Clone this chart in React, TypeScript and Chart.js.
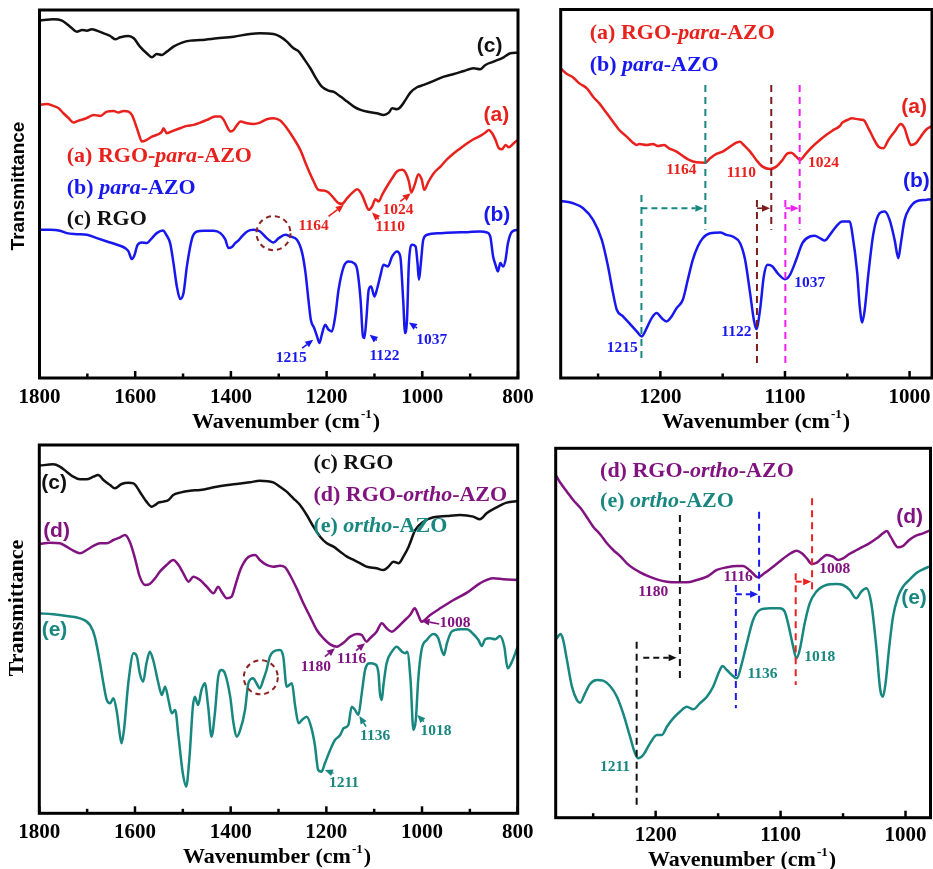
import React, { useEffect, useRef } from 'react';
import { Chart, registerables } from 'chart.js';

Chart.register(...registerables);

type Pt = [number, number];

// ---------- tick values ----------
const WIDE_TICKS = [800, 900, 1000, 1100, 1200, 1300, 1400, 1500, 1600, 1700, 1800];
const WIDE_LABELS = [800, 1000, 1200, 1400, 1600, 1800];
const NARROW_TICKS = [1000, 1050, 1100, 1150, 1200, 1250];
const NARROW_LABELS = [1000, 1100, 1200];

// ---------- panel 1 (1800-800): (c) RGO, (a) RGO-para-AZO, (b) para-AZO ----------
const P1_RGO: Pt[] = [[1800,107.3],[1771,107.7],[1753,107.3],[1736,105.5],[1722,104.0],[1711,104.5],[1701,104.3],[1691,104.7],[1680,104.3],[1666,103.5],[1652,102.7],[1642,101.7],[1631,102.3],[1614,102.7],[1603,102.0],[1590,99.5],[1576,97.5],[1565,96.3],[1555,97.3],[1544,97.0],[1534,98.0],[1520,99.5],[1502,100.7],[1485,101.3],[1464,101.5],[1429,102.0],[1394,102.5],[1360,103.3],[1339,103.5],[1311,103.3],[1297,102.5],[1283,101.0],[1269,99.0],[1258,98.0],[1248,96.0],[1234,93.0],[1220,89.5],[1210,87.5],[1196,86.3],[1185,85.9],[1171,84.5],[1157,83.0],[1143,81.5],[1129,80.5],[1116,80.0],[1095,79.5],[1081,79.0],[1070,79.7],[1063,81.0],[1053,80.7],[1046,81.3],[1035,83.5],[1025,85.7],[1011,87.3],[997,88.0],[976,89.2],[955,90.5],[934,91.3],[913,92.2],[893,93.0],[879,92.7],[868,94.0],[851,95.0],[830,96.3],[816,97.5],[800,97.7]];
const P1_RGO_PARA: Pt[] = [[1800,82.0],[1785,82.3],[1771,81.7],[1760,81.0],[1750,79.5],[1739,78.0],[1729,76.7],[1718,77.3],[1708,77.7],[1698,78.3],[1687,79.0],[1673,78.7],[1659,80.0],[1645,80.2],[1635,79.7],[1624,80.2],[1614,80.0],[1607,79.0],[1600,76.5],[1593,73.5],[1586,71.0],[1576,71.5],[1565,72.5],[1555,73.0],[1544,74.0],[1541,75.0],[1534,73.5],[1520,74.3],[1506,75.0],[1492,75.7],[1478,76.0],[1464,76.7],[1450,77.5],[1433,78.5],[1422,78.5],[1415,77.5],[1408,75.5],[1401,74.0],[1394,74.5],[1387,76.0],[1380,77.0],[1366,76.5],[1353,76.3],[1339,76.7],[1325,77.7],[1311,78.0],[1297,77.3],[1283,75.0],[1269,72.0],[1255,68.5],[1241,63.5],[1227,59.0],[1217,56.5],[1206,56.3],[1196,55.7],[1185,54.0],[1175,52.5],[1168,52.3],[1157,54.0],[1147,55.5],[1136,56.7],[1126,55.0],[1119,52.5],[1112,50.5],[1105,51.5],[1098,53.7],[1091,53.0],[1084,55.0],[1074,57.5],[1063,60.0],[1053,62.0],[1042,62.5],[1035,61.7],[1028,59.0],[1023,55.7],[1016,58.0],[1008,61.2],[1001,59.5],[996,56.5],[987,59.0],[976,61.5],[962,63.5],[948,65.7],[934,67.5],[920,69.0],[906,70.5],[893,71.7],[879,72.7],[868,73.7],[861,74.5],[854,73.5],[847,71.5],[840,69.0],[833,68.7],[826,70.0],[819,69.3],[809,70.5],[800,71.5]];
const P1_PARA: Pt[] = [[1800,44.5],[1778,44.5],[1757,44.2],[1743,43.5],[1722,43.2],[1701,43.0],[1680,42.0],[1659,41.0],[1638,40.0],[1621,39.0],[1614,38.0],[1607,35.7],[1602,36.7],[1595,40.0],[1586,40.7],[1576,40.5],[1565,42.0],[1555,43.5],[1542,44.3],[1535,43.0],[1527,40.5],[1520,34.5],[1513,27.5],[1506,23.7],[1499,25.5],[1492,33.5],[1481,42.0],[1471,44.0],[1457,44.2],[1436,44.2],[1422,43.5],[1412,41.7],[1405,39.0],[1398,39.3],[1391,40.5],[1384,41.3],[1377,42.5],[1366,44.0],[1353,44.5],[1339,44.0],[1325,42.0],[1311,40.7],[1300,42.0],[1286,43.0],[1276,42.5],[1262,41.5],[1251,37.5],[1244,31.5],[1238,23.5],[1233,17.5],[1226,15.0],[1220,12.5],[1215,10.5],[1210,13.0],[1203,16.0],[1196,14.5],[1189,14.0],[1182,18.5],[1175,26.5],[1164,33.5],[1154,35.0],[1143,34.5],[1136,32.5],[1129,23.5],[1124,12.5],[1121,12.0],[1117,17.5],[1112,26.5],[1107,27.5],[1100,24.5],[1095,26.5],[1088,30.5],[1081,34.0],[1072,33.5],[1063,36.5],[1053,38.0],[1046,36.5],[1040,23.5],[1036,13.5],[1032,17.5],[1028,34.5],[1021,40.0],[1014,39.5],[1010,34.5],[1007,29.5],[1003,34.5],[998,41.5],[990,43.0],[962,43.5],[934,43.7],[906,43.8],[879,44.0],[865,43.7],[858,42.5],[852,36.5],[847,34.0],[842,32.0],[837,34.5],[831,33.5],[826,35.5],[821,40.5],[812,44.0],[800,44.5]];

// ---------- panel 2 (1280-980): (a) RGO-para-AZO, (b) para-AZO ----------
const P2_RGO_PARA: Pt[] = [[1280,93.0],[1275,91.3],[1270,90.3],[1265,88.5],[1259,87.0],[1254,84.5],[1249,82.5],[1243,79.5],[1238,77.0],[1233,74.5],[1227,72.5],[1222,70.7],[1219,70.0],[1217,70.3],[1211,70.0],[1206,70.3],[1202,69.7],[1197,70.0],[1193,69.0],[1187,68.0],[1182,66.7],[1177,65.5],[1171,64.8],[1164,64.7],[1160,66.0],[1155,67.3],[1150,68.0],[1144,69.5],[1139,70.7],[1136,71.0],[1134,70.3],[1128,68.0],[1123,65.5],[1118,63.5],[1112,62.8],[1107,63.5],[1102,65.5],[1098,67.5],[1095,67.7],[1091,66.5],[1088,65.5],[1083,67.5],[1078,69.5],[1072,71.5],[1067,73.0],[1062,74.3],[1056,75.7],[1054,76.7],[1050,77.5],[1046,78.0],[1041,77.7],[1037,77.5],[1033,75.0],[1029,72.0],[1025,69.5],[1021,69.0],[1017,71.5],[1012,74.0],[1007,76.3],[1004,75.0],[1001,71.5],[999,70.0],[995,70.5],[991,72.5],[987,74.5],[983,75.5],[980,76.0]];
const P2_PARA: Pt[] = [[1280,53.2],[1270,52.5],[1262,51.0],[1254,47.5],[1247,41.5],[1242,33.5],[1238,25.5],[1235,20.5],[1230,18.5],[1225,16.5],[1219,14.0],[1215,12.5],[1211,15.0],[1207,18.0],[1203,19.5],[1199,18.0],[1195,17.0],[1191,18.5],[1187,21.0],[1182,23.5],[1178,29.5],[1174,35.5],[1170,39.5],[1166,42.0],[1160,43.5],[1152,43.7],[1147,43.0],[1142,42.5],[1136,40.5],[1132,35.5],[1128,25.5],[1125,17.5],[1123,14.7],[1120,20.5],[1117,30.5],[1114,34.0],[1110,33.5],[1106,31.5],[1100,29.7],[1096,31.0],[1091,35.5],[1086,40.5],[1080,42.5],[1076,42.7],[1072,42.0],[1068,41.3],[1064,43.0],[1059,45.5],[1054,47.0],[1048,47.0],[1046,43.5],[1042,31.5],[1040,21.5],[1038,16.7],[1036,20.5],[1033,31.5],[1029,43.5],[1024,49.5],[1020,50.0],[1016,47.5],[1012,41.5],[1009,36.0],[1007,40.5],[1004,47.5],[1000,51.0],[995,53.0],[987,53.5],[983,53.7],[980,53.8]];

// ---------- panel 3 (1800-800): (c) RGO, (d) RGO-ortho-AZO, (e) ortho-AZO ----------
const P3_RGO: Pt[] = [[1800,104.3],[1771,104.7],[1757,104.0],[1743,102.5],[1729,101.0],[1715,100.2],[1701,100.2],[1687,101.0],[1677,101.5],[1666,100.0],[1652,98.5],[1642,97.5],[1628,98.8],[1614,99.2],[1603,99.0],[1590,96.5],[1576,93.5],[1565,92.0],[1558,92.5],[1551,93.2],[1541,93.5],[1530,94.0],[1520,95.5],[1506,96.2],[1485,96.8],[1464,97.0],[1429,98.0],[1394,98.7],[1360,99.3],[1339,99.8],[1311,99.3],[1297,98.0],[1283,96.5],[1269,94.5],[1255,92.5],[1241,89.5],[1227,86.0],[1213,83.0],[1199,81.0],[1185,80.0],[1171,78.5],[1157,77.0],[1143,76.0],[1129,75.0],[1116,74.0],[1095,73.5],[1081,73.0],[1070,74.0],[1060,75.5],[1049,75.0],[1039,77.0],[1028,80.0],[1014,85.0],[997,87.5],[976,88.8],[948,89.2],[920,89.5],[893,89.0],[879,88.2],[865,90.0],[844,91.8],[823,93.2],[800,93.7]];
const P3_RGO_ORTHO: Pt[] = [[1800,80.8],[1778,81.2],[1757,81.0],[1743,80.0],[1729,78.8],[1715,78.0],[1701,79.0],[1687,80.2],[1673,81.0],[1659,81.0],[1645,82.0],[1631,82.8],[1621,83.5],[1610,81.2],[1600,76.5],[1590,71.0],[1579,68.5],[1569,68.8],[1558,70.5],[1548,72.5],[1534,74.5],[1520,76.0],[1509,74.5],[1499,72.0],[1488,69.5],[1478,71.0],[1464,70.0],[1450,68.0],[1436,66.0],[1426,68.0],[1419,66.5],[1408,64.5],[1398,65.0],[1391,68.0],[1380,73.0],[1366,76.5],[1349,77.5],[1339,76.0],[1325,74.5],[1311,74.0],[1297,74.3],[1286,73.8],[1276,71.5],[1262,67.5],[1248,63.0],[1234,59.0],[1220,55.0],[1206,52.5],[1192,50.7],[1178,50.0],[1164,51.2],[1150,53.0],[1136,53.8],[1126,53.5],[1116,51.5],[1109,52.5],[1095,54.5],[1084,57.0],[1074,55.5],[1063,54.5],[1053,55.5],[1039,57.5],[1025,59.5],[1015,61.5],[1008,59.5],[1001,57.5],[983,59.5],[962,61.5],[934,64.0],[906,66.2],[879,69.0],[851,70.5],[830,70.2],[800,70.0]];
const P3_ORTHO: Pt[] = [[1800,60.0],[1771,59.7],[1743,59.2],[1715,58.5],[1694,56.5],[1684,53.0],[1673,45.0],[1666,39.0],[1659,34.0],[1652,33.0],[1645,34.5],[1638,30.5],[1631,23.0],[1628,21.0],[1623,25.0],[1614,39.0],[1603,48.0],[1596,47.0],[1590,42.0],[1583,39.5],[1576,45.0],[1569,48.5],[1562,46.0],[1551,39.0],[1544,35.5],[1537,38.0],[1530,34.0],[1523,30.0],[1516,31.0],[1509,23.0],[1500,12.0],[1493,8.0],[1486,17.0],[1479,32.0],[1475,35.0],[1468,32.5],[1461,37.0],[1454,39.0],[1447,32.0],[1440,23.0],[1433,30.0],[1426,41.0],[1419,43.0],[1412,42.0],[1401,35.0],[1394,27.0],[1387,23.0],[1380,25.0],[1370,31.0],[1363,39.0],[1353,40.5],[1346,39.0],[1339,37.5],[1332,40.0],[1325,43.0],[1318,47.0],[1311,48.5],[1297,49.0],[1290,47.0],[1283,38.0],[1272,39.0],[1265,32.0],[1258,27.0],[1251,28.0],[1241,29.0],[1231,25.5],[1224,20.5],[1217,13.0],[1210,12.5],[1203,15.0],[1192,19.0],[1182,22.0],[1171,23.5],[1164,25.5],[1154,26.5],[1147,32.0],[1140,31.0],[1133,29.5],[1126,36.0],[1119,43.0],[1109,45.0],[1098,44.7],[1091,42.0],[1088,36.0],[1084,34.0],[1081,38.0],[1074,45.0],[1063,48.5],[1053,50.0],[1042,48.5],[1035,48.0],[1031,48.5],[1024,40.0],[1018,25.0],[1013,28.0],[1008,40.0],[1001,49.0],[990,52.0],[976,53.8],[966,52.5],[959,49.0],[954,47.5],[948,51.0],[938,54.5],[920,55.2],[906,55.2],[893,53.8],[882,52.0],[875,50.2],[868,52.2],[858,52.5],[847,52.2],[837,53.2],[828,50.0],[821,43.5],[812,45.5],[800,50.0]];

// ---------- panel 4 (1280-980): (d) RGO-ortho-AZO, (e) ortho-AZO ----------
const P4_RGO_ORTHO: Pt[] = [[1280,102.8],[1276,100.3],[1271,97.8],[1266,95.3],[1260,92.8],[1255,90.1],[1250,87.3],[1244,84.8],[1239,82.3],[1234,80.3],[1228,78.3],[1223,76.3],[1218,74.8],[1212,73.5],[1207,72.6],[1199,71.5],[1191,70.8],[1183,70.6],[1175,70.6],[1167,71.3],[1159,72.3],[1151,74.3],[1143,75.1],[1135,75.5],[1130,75.5],[1125,74.3],[1118,72.1],[1113,73.3],[1106,75.3],[1101,76.8],[1094,78.8],[1087,80.1],[1083,79.3],[1079,77.8],[1075,76.1],[1071,76.5],[1067,77.8],[1063,78.8],[1058,78.3],[1054,77.3],[1050,77.8],[1045,79.1],[1039,80.3],[1034,81.3],[1029,82.3],[1023,83.8],[1018,85.3],[1015,86.0],[1012,84.3],[1006,81.1],[1002,81.5],[997,83.3],[992,84.5],[986,85.3],[981,86.1]];
const P4_ORTHO: Pt[] = [[1280,53.5],[1276,55.1],[1274,53.3],[1271,47.3],[1267,39.3],[1263,35.3],[1260.5,34.5],[1256.5,37.3],[1252.5,40.1],[1247,41.3],[1242,41.1],[1236.5,39.5],[1231,36.3],[1226,31.3],[1220.5,24.3],[1216.5,19.3],[1214,17.8],[1210,18.8],[1204.5,22.3],[1199,24.8],[1195,24.8],[1191,27.3],[1186,29.8],[1180.6,31.8],[1175,33.3],[1170,32.5],[1164.6,34.3],[1159,36.3],[1154,39.3],[1148.6,44.3],[1146.5,45.5],[1143,44.3],[1139,42.8],[1135,41.8],[1131,46.3],[1127,52.3],[1122,59.3],[1116.6,62.3],[1108.7,62.8],[1100.7,62.8],[1096.7,61.8],[1094,58.3],[1090.5,52.3],[1087.3,47.8],[1084.7,50.3],[1080.7,58.3],[1076.7,64.3],[1071.4,67.8],[1063.4,69.8],[1055.4,70.1],[1050,69.8],[1044.7,68.3],[1039.4,65.8],[1035.4,67.8],[1031.4,68.8],[1027.4,64.3],[1023.4,51.3],[1020.2,38.3],[1018,36.3],[1016,40.3],[1013,51.3],[1010,60.3],[1006,66.3],[1002,69.3],[997,71.3],[991.5,73.3],[986,74.5],[981,75.3]];

// ---------- styles ----------
const SERIF = "'Liberation Serif', 'Times New Roman', serif";
const SANS = "'Liberation Sans', Arial, sans-serif";
const RED = '#e8211d';
const BLUE = '#1818ee';
const BLACK = '#111111';
const PURPLE = '#80137f';
const TEAL = '#17877f';
const DARKRED = '#7d1c1c';
const MAGENTA = '#f020f0';

type Part = { t: string; i?: boolean };
type TextItem = { x: number; y: number; parts: Part[]; color: string; fam: string; size: number; align: 'left' | 'center' };
type ArrowItem = { x1: number; y1: number; x2: number; y2: number; color: string; dash?: boolean };
type VLine = { x: number; y1: number; y2: number; color: string };
type CircleItem = { x: number; y: number; r: number; color: string };

const legend = (x: number, y: number, parts: Part[], color: string): TextItem => ({ x, y, parts, color, fam: SERIF, size: 22, align: 'left' });
const tag = (x: number, y: number, t: string, color: string): TextItem => ({ x, y, parts: [{ t }], color, fam: SANS, size: 21, align: 'left' });
const peak = (x: number, y: number, t: string, color: string): TextItem => ({ x, y, parts: [{ t }], color, fam: SERIF, size: 15.5, align: 'center' });

interface PanelSpec {
  left: number; top: number; width: number; height: number;
  pad: { left: number; right: number; top: number };
  axisH: number; tickPad: number;
  xMin: number; xMax: number; yMax: number;
  ticks: number[]; labels: number[];
  series: { data: Pt[]; color: string }[];
  texts: TextItem[]; arrows: ArrowItem[]; vlines: VLine[]; circles: CircleItem[];
  xTitle: { x: number; y: number };
  yTitle?: { x: number; y: number; fam: string; size: number };
}

const PANELS: PanelSpec[] = [
  {
    left: 0, top: 0, width: 545, height: 435,
    pad: { left: 39.5, right: 27, top: 10 }, axisH: 57, tickPad: 7,
    xMin: 800, xMax: 1800, yMax: 110.5, ticks: WIDE_TICKS, labels: WIDE_LABELS,
    series: [{ data: P1_RGO, color: BLACK }, { data: P1_RGO_PARA, color: RED }, { data: P1_PARA, color: BLUE }],
    texts: [
      legend(1743, 66.5, [{ t: '(a) RGO-' }, { t: 'para', i: true }, { t: '-AZO' }], RED),
      legend(1743, 57.0, [{ t: '(b) ' }, { t: 'para', i: true }, { t: '-AZO' }], BLUE),
      legend(1743, 47.5, [{ t: '(c) RGO' }], BLACK),
      tag(886, 99.5, '(c)', BLACK), tag(872, 79.0, '(a)', RED), tag(872, 49.0, '(b)', BLUE),
      peak(1227, 45.7, '1164', RED), peak(1067, 45.2, '1110', RED), peak(1051, 50.5, '1024', RED),
      peak(1274, 6.0, '1215', BLUE), peak(1079, 6.7, '1122', BLUE), peak(980, 11.3, '1037', BLUE),
    ],
    arrows: [
      { x1: 1196, y1: 48.5, x2: 1164, y2: 52.0, color: RED },
      { x1: 1091, y1: 47.7, x2: 1105, y2: 49.7, color: RED },
      { x1: 1046, y1: 53.0, x2: 1024, y2: 55.5, color: RED },
      { x1: 1251, y1: 9.0, x2: 1228, y2: 11.5, color: BLUE },
      { x1: 1095, y1: 11.3, x2: 1110, y2: 13.0, color: BLUE },
      { x1: 1011, y1: 15.0, x2: 1028, y2: 16.7, color: BLUE },
    ],
    vlines: [],
    circles: [{ x: 1311, y: 43.5, r: 17, color: '#8b2323' }],
    xTitle: { x: 286, y: 422 },
    yTitle: { x: 19, y: 186, fam: SANS, size: 19 },
  },
  {
    left: 545, top: 0, width: 388, height: 435,
    pad: { left: 15.7, right: 1, top: 9.5 }, axisH: 57, tickPad: 7,
    xMin: 982, xMax: 1280, yMax: 110.7, ticks: NARROW_TICKS, labels: NARROW_LABELS,
    series: [{ data: P2_RGO_PARA, color: RED }, { data: P2_PARA, color: BLUE }],
    texts: [
      legend(1256.7, 103.5, [{ t: '(a) RGO-' }, { t: 'para', i: true }, { t: '-AZO' }], RED),
      legend(1256.7, 94.0, [{ t: '(b) ' }, { t: 'para', i: true }, { t: '-AZO' }], BLUE),
      tag(1006.7, 81.3, '(a)', RED), tag(1005.3, 59.0, '(b)', BLUE),
      peak(1183.2, 62.5, '1164', RED), peak(1135, 61.5, '1110', RED), peak(1069, 64.7, '1024', RED),
      peak(1230.7, 9.0, '1215', BLUE), peak(1139, 13.8, '1122', BLUE), peak(1080.2, 28.5, '1037', BLUE),
    ],
    arrows: [
      { x1: 1215.2, y1: 51, x2: 1165.5, y2: 51, color: TEAL, dash: true },
      { x1: 1122.5, y1: 51, x2: 1112, y2: 51, color: DARKRED },
      { x1: 1099.7, y1: 51, x2: 1089, y2: 51, color: MAGENTA, dash: true },
    ],
    vlines: [
      { x: 1163.9, y1: 88, y2: 44.5, color: TEAL },
      { x: 1215.2, y1: 55, y2: 5.5, color: TEAL },
      { x: 1111, y1: 88, y2: 44.5, color: DARKRED },
      { x: 1122.5, y1: 53.5, y2: 4.5, color: DARKRED },
      { x: 1088.2, y1: 88, y2: 44.5, color: MAGENTA },
      { x: 1099.7, y1: 53.5, y2: 4.5, color: MAGENTA },
    ],
    circles: [],
    xTitle: { x: 211, y: 422 },
  },
  {
    left: 0, top: 435, width: 545, height: 434,
    pad: { left: 39.3, right: 27.3, top: 10 }, axisH: 55.7, tickPad: 7,
    xMin: 800, xMax: 1800, yMax: 110.5, ticks: WIDE_TICKS, labels: WIDE_LABELS,
    series: [{ data: P3_RGO, color: BLACK }, { data: P3_RGO_ORTHO, color: PURPLE }, { data: P3_ORTHO, color: TEAL }],
    texts: [
      tag(1796, 99.0, '(c)', BLACK), tag(1792, 84.5, '(d)', PURPLE), tag(1795, 55.0, '(e)', TEAL),
      legend(1227, 105.0, [{ t: '(c) RGO' }], BLACK),
      legend(1227, 95.5, [{ t: '(d) RGO-' }, { t: 'ortho', i: true }, { t: '-AZO' }], PURPLE),
      legend(1227, 86.0, [{ t: '(e) ' }, { t: 'ortho', i: true }, { t: '-AZO' }], TEAL),
      peak(1222, 43.8, '1180', PURPLE), peak(1147, 46.2, '1116', PURPLE), peak(931, 57.2, '1008', PURPLE),
      peak(1098, 23.2, '1136', TEAL), peak(971, 24.7, '1018', TEAL), peak(1163, 9.2, '1211', TEAL),
    ],
    arrows: [
      { x1: 1203, y1: 47.0, x2: 1182, y2: 49.5, color: PURPLE },
      { x1: 1138, y1: 48.8, x2: 1119, y2: 51.0, color: PURPLE },
      { x1: 964, y1: 56.8, x2: 1001, y2: 57.8, color: PURPLE },
      { x1: 1117, y1: 26.0, x2: 1131, y2: 29.2, color: TEAL },
      { x1: 996, y1: 27.5, x2: 1010, y2: 29.5, color: TEAL },
      { x1: 1185, y1: 12.0, x2: 1203, y2: 13.0, color: TEAL },
    ],
    vlines: [],
    circles: [{ x: 1337, y: 40.8, r: 17, color: '#8b2323' }],
    xTitle: { x: 277, y: 422 },
    yTitle: { x: 17, y: 173, fam: SERIF, size: 22 },
  },
  {
    left: 545, top: 435, width: 388, height: 434,
    pad: { left: 10.7, right: 2.5, top: 13.3 }, axisH: 51.3, tickPad: 5,
    xMin: 980, xMax: 1280, yMax: 110.8, ticks: NARROW_TICKS, labels: NARROW_LABELS,
    series: [{ data: P4_RGO_ORTHO, color: PURPLE }, { data: P4_ORTHO, color: TEAL }],
    texts: [
      legend(1244.5, 103.8, [{ t: '(d) RGO-' }, { t: 'ortho', i: true }, { t: '-AZO' }], PURPLE),
      legend(1244.5, 94.8, [{ t: '(e) ' }, { t: 'ortho', i: true }, { t: '-AZO' }], TEAL),
      tag(1007.5, 90.1, '(d)', PURPLE), tag(1003.5, 65.8, '(e)', TEAL),
      peak(1201.9, 67.6, '1180', PURPLE), peak(1134, 72.1, '1116', PURPLE), peak(1056.7, 74.5, '1008', PURPLE),
      peak(1114.5, 43.0, '1136', TEAL), peak(1068.7, 48.3, '1018', TEAL), peak(1232.5, 15.1, '1211', TEAL),
    ],
    arrows: [
      { x1: 1209.9, y1: 48, x2: 1183.2, y2: 48, color: BLACK, dash: true },
      { x1: 1135.8, y1: 67, x2: 1118, y2: 67, color: '#1a1aee', dash: true },
      { x1: 1087.9, y1: 70.8, x2: 1075.5, y2: 70.8, color: '#ee2020', dash: true },
    ],
    vlines: [
      { x: 1180.6, y1: 90.8, y2: 41.3, color: BLACK },
      { x: 1215.2, y1: 52.8, y2: 3.3, color: BLACK },
      { x: 1117.2, y1: 91.8, y2: 63.3, color: '#1a1aee' },
      { x: 1135.8, y1: 69.8, y2: 32.8, color: '#1a1aee' },
      { x: 1074.8, y1: 95.8, y2: 67.3, color: '#ee2020' },
      { x: 1087.9, y1: 73.3, y2: 39.8, color: '#ee2020' },
    ],
    circles: [],
    xTitle: { x: 197, y: 425 },
  },
];

function drawArrow(ctx: CanvasRenderingContext2D, x1: number, y1: number, x2: number, y2: number, color: string, dash?: boolean) {
  const ang = Math.atan2(y2 - y1, x2 - x1);
  const hl = 8, hw = 3.5;
  const bx = x2 - hl * Math.cos(ang), by = y2 - hl * Math.sin(ang);
  ctx.strokeStyle = color; ctx.fillStyle = color;
  ctx.lineWidth = dash ? 2 : 1.6;
  ctx.setLineDash(dash ? [6, 4] : []);
  ctx.beginPath(); ctx.moveTo(x1, y1); ctx.lineTo(bx, by); ctx.stroke();
  ctx.setLineDash([]);
  ctx.beginPath();
  ctx.moveTo(x2, y2);
  ctx.lineTo(bx - hw * Math.sin(ang), by + hw * Math.cos(ang));
  ctx.lineTo(bx + hw * Math.sin(ang), by - hw * Math.cos(ang));
  ctx.closePath(); ctx.fill();
}

function drawRich(ctx: CanvasRenderingContext2D, x: number, y: number, parts: Part[], fam: string, size: number, color: string, align: string) {
  const f = (p: Part) => `${p.i ? 'italic ' : ''}bold ${size}px ${fam}`;
  let total = 0;
  for (const p of parts) { ctx.font = f(p); total += ctx.measureText(p.t).width; }
  let cx = align === 'center' ? x - total / 2 : x;
  ctx.fillStyle = color; ctx.textBaseline = 'middle'; ctx.textAlign = 'left';
  for (const p of parts) { ctx.font = f(p); ctx.fillText(p.t, cx, y); cx += ctx.measureText(p.t).width; }
}

function makeDeco(spec: PanelSpec) {
  return {
    id: 'deco',
    afterDraw(chart: any) {
      const ctx: CanvasRenderingContext2D = chart.ctx;
      const { left, right, top, bottom } = chart.chartArea;
      const xs = chart.scales.x, ys = chart.scales.y;
      const X = (v: number) => xs.getPixelForValue(v);
      const Y = (v: number) => ys.getPixelForValue(v);
      ctx.save();
      for (const l of spec.vlines) {
        ctx.strokeStyle = l.color; ctx.lineWidth = 2; ctx.setLineDash([7, 5]);
        ctx.beginPath(); ctx.moveTo(X(l.x), Y(l.y1)); ctx.lineTo(X(l.x), Y(l.y2)); ctx.stroke();
      }
      ctx.setLineDash([]);
      for (const a of spec.arrows) drawArrow(ctx, X(a.x1), Y(a.y1), X(a.x2), Y(a.y2), a.color, a.dash);
      for (const c of spec.circles) {
        ctx.strokeStyle = c.color; ctx.lineWidth = 2; ctx.setLineDash([5, 4]);
        ctx.beginPath(); ctx.arc(X(c.x), Y(c.y), c.r, 0, Math.PI * 2); ctx.stroke();
      }
      ctx.setLineDash([]);
      for (const t of spec.texts) drawRich(ctx, X(t.x), Y(t.y), t.parts, t.fam, t.size, t.color, t.align);
      ctx.strokeStyle = '#000'; ctx.lineWidth = 2.5;
      for (const tk of xs.ticks) {
        const px = X(tk.value);
        const major = tk.label !== '' && tk.label != null;
        ctx.beginPath(); ctx.moveTo(px, bottom); ctx.lineTo(px, bottom - (major ? 7 : 4.5)); ctx.stroke();
      }
      ctx.lineWidth = 3;
      ctx.strokeRect(left, top, right - left, bottom - top);
      ctx.fillStyle = '#000'; ctx.textBaseline = 'middle'; ctx.textAlign = 'left';
      const big = `bold 22px ${SERIF}`, small = `bold 13px ${SERIF}`;
      const a = 'Wavenumber (cm', s = '-1', b = ')';
      ctx.font = big; const wa = ctx.measureText(a).width; const wb = ctx.measureText(b).width;
      ctx.font = small; const ws = ctx.measureText(s).width;
      let x0 = spec.xTitle.x - (wa + ws + wb + 2) / 2;
      ctx.font = big; ctx.fillText(a, x0, spec.xTitle.y); x0 += wa + 1;
      ctx.font = small; ctx.fillText(s, x0, spec.xTitle.y - 7); x0 += ws + 1;
      ctx.font = big; ctx.fillText(b, x0, spec.xTitle.y);
      if (spec.yTitle) {
        ctx.save();
        ctx.translate(spec.yTitle.x, spec.yTitle.y);
        ctx.rotate(-Math.PI / 2);
        ctx.font = `bold ${spec.yTitle.size}px ${spec.yTitle.fam}`;
        ctx.textAlign = 'center'; ctx.textBaseline = 'middle';
        ctx.fillText('Transmittance', 0, 0);
        ctx.restore();
      }
      ctx.restore();
    },
  };
}

function Panel({ spec }: { spec: PanelSpec }) {
  const ref = useRef<HTMLCanvasElement>(null);
  useEffect(() => {
    const canvas = ref.current;
    if (!canvas) return;
    const chart = new Chart(canvas, {
      type: 'line',
      data: {
        datasets: spec.series.map((s) => ({
          data: s.data.map(([x, y]) => ({ x, y })),
          borderColor: s.color,
          borderWidth: 2.5,
          pointRadius: 0,
          fill: false,
          cubicInterpolationMode: 'monotone' as const,
        })),
      },
      options: {
        animation: false,
        responsive: false,
        devicePixelRatio: 1,
        events: [],
        layout: { padding: { left: spec.pad.left, right: spec.pad.right, top: spec.pad.top, bottom: 0 } },
        plugins: { legend: { display: false }, tooltip: { enabled: false } },
        scales: {
          x: {
            type: 'linear',
            reverse: true,
            min: spec.xMin,
            max: spec.xMax,
            afterBuildTicks: (scale: any) => { scale.ticks = spec.ticks.map((v) => ({ value: v })); },
            afterFit: (scale: any) => { scale.height = spec.axisH; },
            grid: { display: false, drawTicks: false },
            border: { display: false },
            ticks: {
              autoSkip: false,
              maxRotation: 0,
              padding: spec.tickPad,
              color: '#000',
              font: { family: SERIF, size: 21, weight: 'bold' },
              callback: (v: any) => (spec.labels.includes(Number(v)) ? String(v) : ''),
            },
          },
          y: { display: false, min: 0, max: spec.yMax },
        },
      } as any,
      plugins: [makeDeco(spec)],
    });
    return () => chart.destroy();
  }, [spec]);
  return (
    <canvas
      ref={ref}
      width={spec.width}
      height={spec.height}
      style={{ position: 'absolute', left: spec.left, top: spec.top, width: spec.width, height: spec.height }}
    />
  );
}

export default function App() {
  return (
    <div style={{ position: 'absolute', left: 0, top: 0, width: 933, height: 869, background: '#fff', overflow: 'hidden' }}>
      {PANELS.map((p, i) => (
        <Panel key={i} spec={p} />
      ))}
    </div>
  );
}
